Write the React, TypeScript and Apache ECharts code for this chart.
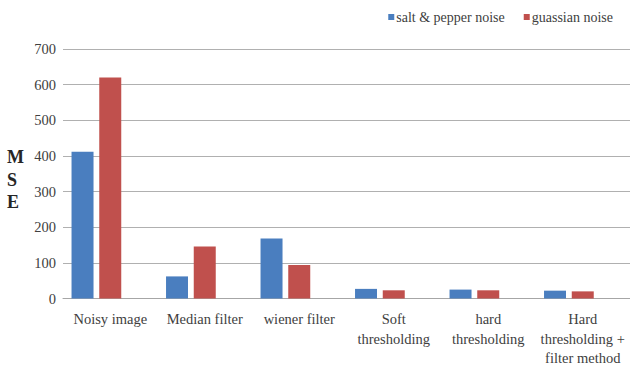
import React, { useEffect, useRef } from "react";
import * as echarts from "echarts";

// Denoising methods compared by mean squared error
const categories = [
  "Noisy image",
  "Median filter",
  "wiener filter",
  "Soft\nthresholding",
  "hard\nthresholding",
  "Hard\nthresholding +\nfilter method",
];
const saltPepper = [412, 62, 168, 27, 25, 22];
const gaussian = [620, 146, 94, 23, 23, 20];
const yTicks = { min: 0, max: 700, interval: 100 };
const seriesNames = ["salt & pepper noise", "guassian noise"];

const FONT = "Liberation Serif";
const TEXT = "#404040";

export default function App() {
  const ref = useRef<HTMLDivElement>(null);

  useEffect(() => {
    if (!ref.current) return;
    const chart = echarts.init(ref.current, undefined, { renderer: "svg" });
    const barStyle = { barWidth: 22, barGap: "26%" };
    chart.setOption({
      animation: false,
      backgroundColor: "#ffffff",
      textStyle: { fontFamily: FONT },
      legend: {
        data: seriesNames,
        right: 12,
        top: 5,
        icon: "rect",
        itemWidth: 6,
        itemHeight: 6,
        itemGap: 19,
        textStyle: { fontFamily: FONT, fontSize: 14, color: TEXT, padding: [0, 0, 0, -3] },
      },
      grid: { left: 63, top: 49, width: 569, height: 250, containLabel: false },
      xAxis: {
        type: "category",
        data: categories,
        axisLine: { show: true, lineStyle: { color: "#a6a6a6", width: 1 } },
        axisTick: { show: false },
        axisLabel: {
          interval: 0,
          margin: 11,
          fontFamily: FONT,
          fontSize: 14.5,
          lineHeight: 19.5,
          color: TEXT,
        },
      },
      yAxis: {
        type: "value",
        min: yTicks.min,
        max: yTicks.max,
        interval: yTicks.interval,
        axisLine: { show: false },
        axisTick: { show: false },
        splitLine: { lineStyle: { color: "#b0b0b0", width: 1 } },
        axisLabel: { margin: 7, fontFamily: FONT, fontSize: 14.5, color: TEXT },
      },
      graphic: [
        {
          type: "text",
          left: 7,
          top: 146,
          style: {
            text: "M\nS\nE",
            fontFamily: FONT,
            fontWeight: "bold",
            fontSize: 18,
            lineHeight: 22.5,
            fill: "#262626",
            align: "center",
            width: 20,
          },
        },
      ],
      series: [
        { name: seriesNames[0], type: "bar", data: saltPepper, itemStyle: { color: "#4a7ebf" }, ...barStyle },
        { name: seriesNames[1], type: "bar", data: gaussian, itemStyle: { color: "#c0504d" }, ...barStyle },
        // empty third slot in each cluster
        { name: "", type: "bar", data: categories.map(() => null), ...barStyle },
      ],
    });
    return () => chart.dispose();
  }, []);

  return (
    <div
      ref={ref}
      style={{ position: "absolute", left: 0, top: 0, width: 630, height: 368 }}
    />
  );
}
